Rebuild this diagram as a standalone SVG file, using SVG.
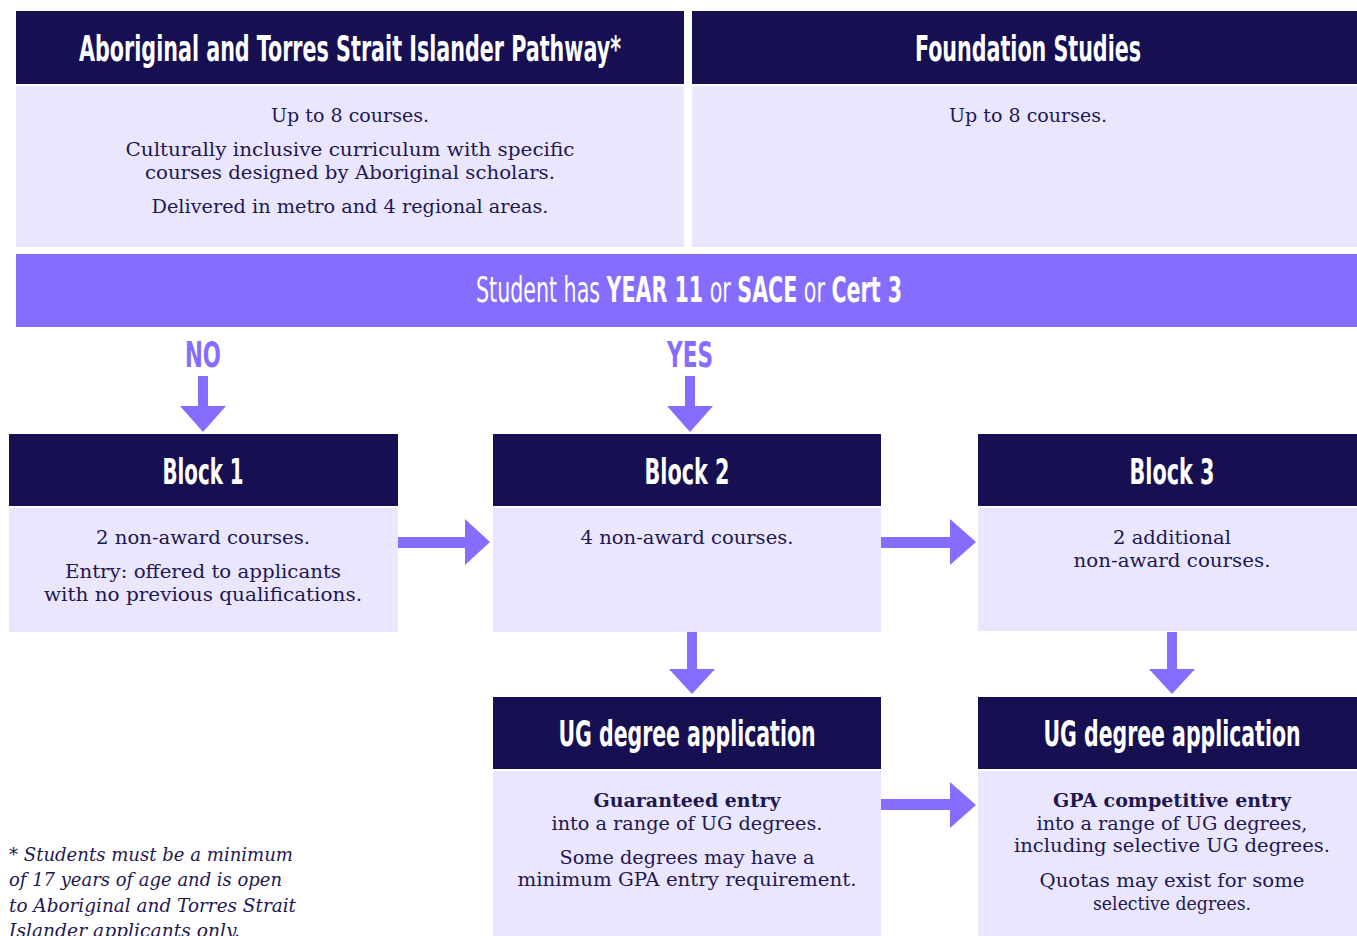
<svg xmlns="http://www.w3.org/2000/svg" width="1357" height="936" viewBox="0 0 1357 936">
<style>
.hd{fill:#161052}
.bd{fill:#EAE6FD}
.ban{fill:#846DFF}
.arr{fill:#846DFF}
.h{font-family:"Liberation Sans Narrow","DejaVu Sans Condensed","Roboto",sans-serif;font-weight:700;font-size:36px;fill:#FFFFFF;text-anchor:middle}
.hb{font-family:"Liberation Sans Narrow","DejaVu Sans Condensed","Roboto",sans-serif;font-weight:400;font-size:36px;fill:#FFFFFF}
.b{font-weight:700}
.lbl{font-family:"Liberation Sans Narrow","DejaVu Sans Condensed","Roboto",sans-serif;font-weight:700;font-size:36px;fill:#846DFF;text-anchor:middle}
.t{font-family:"DejaVu Serif","Liberation Serif",serif;font-size:18px;fill:#1E1852;text-anchor:middle}
.tb{font-weight:700}
.fn{font-family:"DejaVu Serif","Liberation Serif",serif;font-style:italic;font-size:18px;fill:#1E1852}
</style>

<g id="aboriginal-pathway">
<rect class="hd" x="16" y="11" width="668" height="73"/>
<rect class="bd" x="16" y="86" width="668" height="161"/>
<text class="h" x="350" y="61" textLength="542" lengthAdjust="spacingAndGlyphs">Aboriginal and Torres Strait Islander Pathway*</text>
<text class="t" x="350" y="122" textLength="158" lengthAdjust="spacingAndGlyphs">Up to 8 courses.</text>
<text class="t" x="350" y="156" textLength="449" lengthAdjust="spacingAndGlyphs">Culturally inclusive curriculum with specific</text>
<text class="t" x="350" y="179" textLength="410" lengthAdjust="spacingAndGlyphs">courses designed by Aboriginal scholars.</text>
<text class="t" x="350" y="213" textLength="397" lengthAdjust="spacingAndGlyphs">Delivered in metro and 4 regional areas.</text>
</g>

<g id="foundation-studies">
<rect class="hd" x="692" y="11" width="665" height="73"/>
<rect class="bd" x="692" y="86" width="665" height="161"/>
<text class="h" x="1028" y="61" textLength="226" lengthAdjust="spacingAndGlyphs">Foundation Studies</text>
<text class="t" x="1028" y="122" textLength="158" lengthAdjust="spacingAndGlyphs">Up to 8 courses.</text>
</g>

<g id="decision">
<rect class="ban" x="16" y="254" width="1341" height="73"/>
<text class="hb" x="476" y="302" textLength="426" lengthAdjust="spacingAndGlyphs">Student has <tspan class="b">YEAR 11</tspan> or <tspan class="b">SACE</tspan> or <tspan class="b">Cert 3</tspan></text>
</g>

<g id="block1">
<rect class="hd" x="9" y="434" width="389" height="72"/>
<rect class="bd" x="9" y="508" width="389" height="124"/>
<text class="h" x="203" y="484" textLength="81" lengthAdjust="spacingAndGlyphs">Block 1</text>
<text class="t" x="203" y="544" textLength="214" lengthAdjust="spacingAndGlyphs">2 non-award courses.</text>
<text class="t" x="203" y="578" textLength="276" lengthAdjust="spacingAndGlyphs">Entry: offered to applicants</text>
<text class="t" x="203" y="601" textLength="318" lengthAdjust="spacingAndGlyphs">with no previous qualifications.</text>
</g>

<g id="block2">
<rect class="hd" x="493" y="434" width="388" height="72"/>
<rect class="bd" x="493" y="508" width="388" height="124"/>
<text class="h" x="687" y="484" textLength="85" lengthAdjust="spacingAndGlyphs">Block 2</text>
<text class="t" x="687" y="544" textLength="213" lengthAdjust="spacingAndGlyphs">4 non-award courses.</text>
</g>

<g id="block3">
<rect class="hd" x="978" y="434" width="379" height="72"/>
<rect class="bd" x="978" y="508" width="379" height="123"/>
<text class="h" x="1172" y="484" textLength="85" lengthAdjust="spacingAndGlyphs">Block 3</text>
<text class="t" x="1172" y="544" textLength="118" lengthAdjust="spacingAndGlyphs">2 additional</text>
<text class="t" x="1172" y="567" textLength="197" lengthAdjust="spacingAndGlyphs">non-award courses.</text>
</g>

<g id="ug-guaranteed">
<rect class="hd" x="493" y="697" width="388" height="72"/>
<rect class="bd" x="493" y="771" width="388" height="165"/>
<text class="h" x="687" y="746" textLength="257" lengthAdjust="spacingAndGlyphs">UG degree application</text>
<text class="t tb" x="687" y="807" textLength="187" lengthAdjust="spacingAndGlyphs">Guaranteed entry</text>
<text class="t" x="687" y="830" textLength="271" lengthAdjust="spacingAndGlyphs">into a range of UG degrees.</text>
<text class="t" x="687" y="864" textLength="255" lengthAdjust="spacingAndGlyphs">Some degrees may have a</text>
<text class="t" x="687" y="886" textLength="339" lengthAdjust="spacingAndGlyphs">minimum GPA entry requirement.</text>
</g>

<g id="ug-competitive">
<rect class="hd" x="978" y="697" width="379" height="72"/>
<rect class="bd" x="978" y="771" width="379" height="165"/>
<text class="h" x="1172" y="746" textLength="257" lengthAdjust="spacingAndGlyphs">UG degree application</text>
<text class="t tb" x="1172" y="807" textLength="238" lengthAdjust="spacingAndGlyphs">GPA competitive entry</text>
<text class="t" x="1172" y="830" textLength="271" lengthAdjust="spacingAndGlyphs">into a range of UG degrees,</text>
<text class="t" x="1172" y="852" textLength="316" lengthAdjust="spacingAndGlyphs">including selective UG degrees.</text>
<text class="t" x="1172" y="887" textLength="265" lengthAdjust="spacingAndGlyphs">Quotas may exist for some</text>
<text class="t" x="1172" y="910" textLength="158" lengthAdjust="spacingAndGlyphs">selective degrees.</text>
</g>

<g id="footnote">
<text class="fn" x="9" y="861" textLength="284" lengthAdjust="spacingAndGlyphs">* Students must be a minimum</text>
<text class="fn" x="9" y="886" textLength="273" lengthAdjust="spacingAndGlyphs">of 17 years of age and is open</text>
<text class="fn" x="9" y="912" textLength="287" lengthAdjust="spacingAndGlyphs">to Aboriginal and Torres Strait</text>
<text class="fn" x="9" y="937" textLength="231" lengthAdjust="spacingAndGlyphs">Islander applicants only.</text>
</g>

<g id="connectors">
<text class="lbl" x="203" y="367" textLength="36" lengthAdjust="spacingAndGlyphs">NO</text>
<text class="lbl" x="690" y="367" textLength="46" lengthAdjust="spacingAndGlyphs">YES</text>
<polygon class="arr" points="198,376 208,376 208,406 226,406 203,432 180,406 198,406"/>
<polygon class="arr" points="685,376 695,376 695,406 713,406 690,432 667,406 685,406"/>
<polygon class="arr" points="398,537 465,537 465,519 490,542 465,565 465,548 398,548"/>
<polygon class="arr" points="881,537 950,537 950,519 976,542 950,565 950,548 881,548"/>
<polygon class="arr" points="687,632 697,632 697,669 715,669 692,694 669,669 687,669"/>
<polygon class="arr" points="1167,632 1177,632 1177,669 1195,669 1172,694 1149,669 1167,669"/>
<polygon class="arr" points="881,799 950,799 950,782 976,805 950,828 950,810 881,810"/>
</g>
</svg>
